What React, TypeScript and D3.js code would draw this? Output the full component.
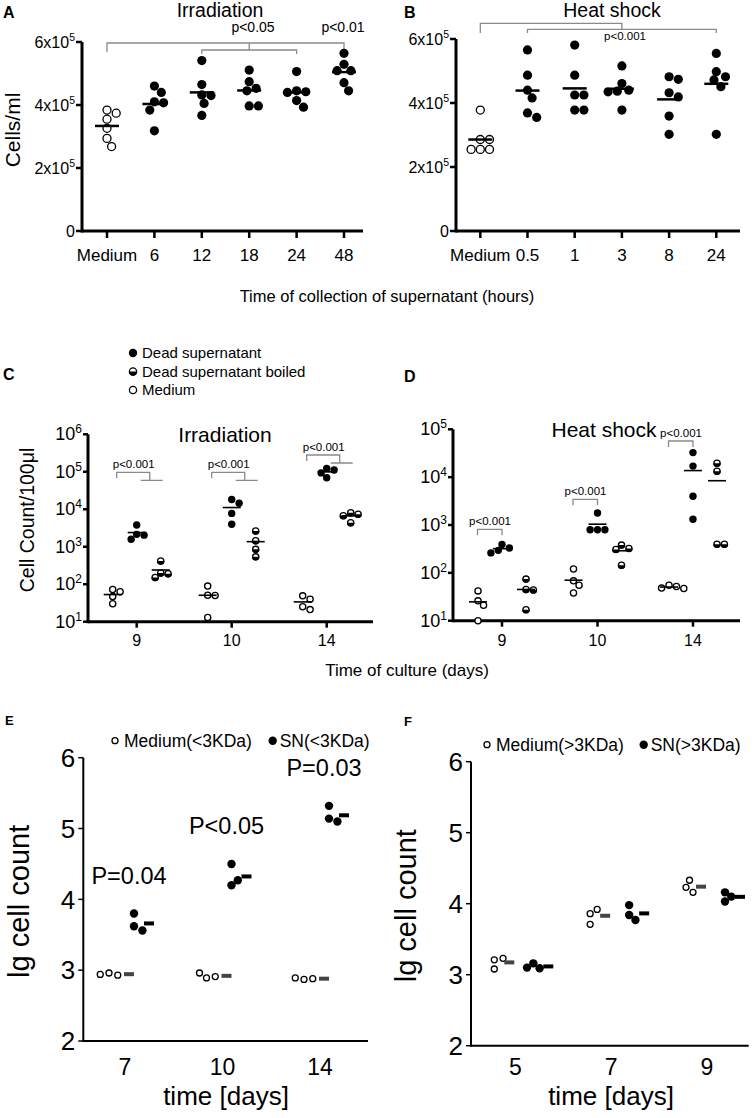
import * as d3 from "d3";

const FONT = "'Liberation Sans', Arial, sans-serif";
const GRAY = "#8a8a8a";

// A: irradiation supernatant, cells/ml (x10^5)
const irrCategories = ["Medium", "6", "12", "18", "24", "48"];
const irrCells = [
  [3.84, 3.74, 3.55, 3.26, 2.94, 2.68],
  [4.6, 4.4, 4.1, 4.07, 3.84, 3.18],
  [5.41, 4.65, 4.32, 4.3, 4.05, 3.67],
  [5.11, 4.74, 4.53, 4.45, 3.97, 3.97],
  [5.06, 4.45, 4.42, 4.4, 4.14, 3.93],
  [5.64, 5.29, 5.09, 5.09, 4.71, 4.45],
];

// B: heat shock supernatant, cells/ml (x10^5)
const heatCategories = ["Medium", "0.5", "1", "3", "8", "24"];
const heatCells = [
  [3.78, 2.86, 2.86, 2.55, 2.55, 2.55],
  [5.66, 4.87, 4.4, 4.16, 3.69, 3.55],
  [5.81, 4.87, 4.25, 4.25, 3.78, 3.78],
  [5.16, 4.61, 4.4, 4.37, 4.35, 3.78],
  [4.82, 4.74, 4.32, 4.19, 3.59, 3.02],
  [5.55, 4.98, 4.82, 4.72, 4.51, 3.02],
];
const cellTicks = [0, 2, 4, 6];

// C, D: cell count / 100 µl
const cultureDays = ["9", "10", "14"];
const irrMedium = [[72, 63, 47, 30], [89, 51, 50, 13], [49, 40, 25, 21]];
const irrDead = [[3800, 2140, 2040, 1580], [18200, 14500, 7760, 3980], [123000, 112000, 93300, 69200]];
const irrBoiled = [[417, 200, 190, 151], [2630, 1445, 851, 537], [8130, 7410, 6760, 4370]];
const heatMedium = [[42, 26, 21, 10], [120, 68, 55, 38], [55, 52, 48, 47]];
const heatDead = [[391, 331, 295, 261], [1780, 794, 794, 794], [32600, 17000, 3980, 1320]];
const heatBoiled = [[74, 45, 44, 17], [380, 324, 309, 145], [19600, 13300, 398, 398]];
const irrExponents = [1, 2, 3, 4, 5, 6];
const heatExponents = [1, 2, 3, 4, 5];

// E, F: lg cell count
const smallDays = ["7", "10", "14"];
const smallMedium = [[2.96, 2.93, 2.94], [2.89, 2.91, 2.96], [2.87, 2.88, 2.89]];
const smallSN = [[3.62, 3.8, 3.56], [4.2, 4.27, 4.5], [5.14, 5.1, 5.32]];
const smallP = ["P=0.04", "P<0.05", "P=0.03"];
const largeDays = ["5", "7", "9"];
const largeMedium = [[3.21, 3.23, 3.08], [3.86, 3.92, 3.71], [4.23, 4.33, 4.16]];
const largeSN = [[3.16, 3.09, 3.1], [3.84, 3.98, 3.77], [4.16, 4.03, 4.1]];
const lgTicks = [2, 3, 4, 5, 6];

type Kind = "open" | "filled" | "half";

// simple beeswarm: push a point sideways until it clears the ones already placed
function dodge(ys: number[], r: number, minDist: number) {
  const placed: [number, number][] = [];
  return ys.map((y) => {
    let off = 0;
    for (let k = 0; k < 80; k++) {
      const c = k === 0 ? 0 : (k % 2 === 1 ? 1 : -1) * Math.ceil(k / 2) * r * 0.5;
      if (placed.every(([px, py]) => Math.hypot(px - c, py - y) >= minDist)) {
        off = c;
        break;
      }
    }
    placed.push([off, y]);
    return off;
  });
}

function Dot({ x, y, r, kind }: { x: number; y: number; r: number; kind: Kind }) {
  if (kind === "filled") return <circle cx={x} cy={y} r={r} fill="#000" />;
  if (kind === "open")
    return <circle cx={x} cy={y} r={r - 0.6} fill="#fff" stroke="#000" strokeWidth={1.3} />;
  return (
    <g>
      <circle cx={x} cy={y} r={r - 0.6} fill="#fff" stroke="#000" strokeWidth={1.3} />
      <path d={`M${x - r},${y} A${r},${r} 0 0 0 ${x + r},${y} Z`} fill="#000" />
    </g>
  );
}

function CellsPanel({
  categories, values, left, right, top, range,
}: {
  categories: string[]; values: number[][]; left: number; right: number; top: number; range: [number, number];
}) {
  const x = d3.scalePoint<string>().domain(categories).range(range);
  const y = d3.scaleLinear().domain([0, 6]).range([231, top]);
  const r = 4.6;
  return (
    <g>
      <line x1={left} x2={right} y1={y(0)} y2={y(0)} stroke="#000" strokeWidth={3} />
      <line x1={left} x2={left} y1={y(6)} y2={y(0) + 1.5} stroke="#000" strokeWidth={3} />
      {cellTicks.map((t) => (
        <g key={t}>
          <line x1={left - 6} x2={left} y1={y(t)} y2={y(t)} stroke="#000" strokeWidth={2.5} />
          <text x={left - 7} y={y(t) + 5.5} textAnchor="end" fontSize={16}>
            {t === 0 ? "0" : <>{`${t}x10`}<tspan dy={-6.5} fontSize={10.5}>5</tspan></>}
          </text>
        </g>
      ))}
      {categories.map((c, i) => {
        const cx = x(c)!;
        const ys = values[i].map((v) => y(v));
        const offs = dodge(ys, r, 8.6);
        const mean = d3.mean(values[i])!;
        return (
          <g key={c}>
            <line x1={cx} x2={cx} y1={y(0)} y2={y(0) + 7} stroke="#000" strokeWidth={2.5} />
            <text x={cx} y={261} textAnchor="middle" fontSize={17}>{c}</text>
            {ys.map((yy, j) => (
              <Dot key={j} x={cx + offs[j]} y={yy} r={r} kind={i === 0 ? "open" : "filled"} />
            ))}
            <line x1={cx - 12} x2={cx + 12} y1={y(mean)} y2={y(mean)} stroke="#000" strokeWidth={2.5} />
          </g>
        );
      })}
    </g>
  );
}

function CulturePanel({
  medium, dead, boiled, left, right, bottom, top, exponents, range, brackets, title, titleX,
}: {
  medium: number[][]; dead: number[][]; boiled: number[][]; left: number; right: number; bottom: number;
  top: number; exponents: number[]; range: [number, number];
  brackets: (x: d3.ScalePoint<string>) => JSX.Element; title: string; titleX: number;
}) {
  const x = d3.scalePoint<string>().domain(cultureDays).range(range);
  const y = d3.scaleLog().domain([10, 10 ** exponents[exponents.length - 1]]).range([bottom, top]);
  const r = 3.7;
  const series: { vals: number[][]; kind: Kind; dx: number }[] = [
    { vals: medium, kind: "open", dx: -24 },
    { vals: dead, kind: "filled", dx: 0 },
    { vals: boiled, kind: "half", dx: 24 },
  ];
  return (
    <g>
      <line x1={left} x2={right} y1={bottom} y2={bottom} stroke="#000" strokeWidth={3} />
      <line x1={left} x2={left} y1={top} y2={bottom + 1.5} stroke="#000" strokeWidth={3} />
      {exponents.map((e) => (
        <g key={e}>
          <line x1={left - 5} x2={left} y1={y(10 ** e)} y2={y(10 ** e)} stroke="#000" strokeWidth={2.5} />
          <text x={left - 6} y={y(10 ** e) + 6} textAnchor="end" fontSize={18}>
            10<tspan dy={-7} fontSize={12}>{e}</tspan>
          </text>
        </g>
      ))}
      {cultureDays.map((d) => (
        <g key={d}>
          <line x1={x(d)} x2={x(d)} y1={bottom} y2={bottom + 6} stroke="#000" strokeWidth={2.5} />
          <text x={x(d)} y={646} textAnchor="middle" fontSize={16}>{d}</text>
        </g>
      ))}
      <text x={titleX} y={top + 8} textAnchor="middle" fontSize={21}>{title}</text>
      {brackets(x)}
      {series.map((s, si) =>
        cultureDays.map((d, gi) => {
          const cx = x(d)! + s.dx;
          const ys = s.vals[gi].map((v) => y(v));
          const offs = dodge(ys, r, 6.8);
          const mean = d3.mean(s.vals[gi])!;
          return (
            <g key={`${si}-${d}`}>
              {ys.map((yy, j) => (
                <Dot key={j} x={cx + offs[j]} y={yy} r={r} kind={s.kind} />
              ))}
              <line x1={cx - 9} x2={cx + 9} y1={y(mean)} y2={y(mean)} stroke="#000" strokeWidth={1.6} />
            </g>
          );
        })
      )}
    </g>
  );
}

function LgPanel({
  days, medium, sn, left, right, bottom, top, range, offsets, pLabels, yLabelX, titleX, legend, legendX,
}: {
  days: string[]; medium: number[][]; sn: number[][]; left: number; right: number; bottom: number; top: number;
  range: [number, number]; offsets: number[]; pLabels?: string[]; yLabelX: number; titleX: number;
  legend: string[]; legendX: number[];
}) {
  const x = d3.scalePoint<string>().domain(days).range(range);
  const y = d3.scaleLinear().domain([2, 6]).range([bottom, top]);
  const [medDx, medDash, snDx, snDash] = offsets;
  const legendY = top - 17;
  return (
    <g>
      <line x1={left} x2={right} y1={bottom} y2={bottom} stroke="#000" strokeWidth={2} />
      <line x1={left} x2={left} y1={top} y2={bottom + 1} stroke="#000" strokeWidth={2} />
      {lgTicks.map((t) => (
        <g key={t}>
          <line x1={left - 5} x2={left} y1={y(t)} y2={y(t)} stroke="#000" strokeWidth={1.5} />
          <text x={left - 8} y={y(t) + 9.3} textAnchor="end" fontSize={26}>{t}</text>
        </g>
      ))}
      <text transform={`translate(${yLabelX},${(top + bottom) / 2 + 2}) rotate(-90)`} textAnchor="middle" fontSize={29}>
        lg cell count
      </text>
      <text x={titleX} y={1105} textAnchor="middle" fontSize={26}>time [days]</text>
      <Dot x={legendX[0]} y={legendY} r={3.6} kind="open" />
      <text x={legendX[0] + 9} y={legendY + 6} fontSize={17.5}>{legend[0]}</text>
      <Dot x={legendX[1]} y={legendY} r={4.2} kind="filled" />
      <text x={legendX[1] + 7} y={legendY + 6} fontSize={17.5}>{legend[1]}</text>
      {days.map((d, i) => {
        const tx = x(d)!;
        const mY = medium[i].map((v) => y(v));
        const sY = sn[i].map((v) => y(v));
        const mOff = dodge(mY, 3.5, 7.6);
        const sOff = dodge(sY, 4.2, 7.6);
        const mMean = d3.mean(medium[i])!;
        const sMean = d3.mean(sn[i])!;
        return (
          <g key={d}>
            <text x={tx} y={1075} textAnchor="middle" fontSize={23}>{d}</text>
            {mY.map((yy, j) => (
              <Dot key={`m${j}`} x={tx + medDx + mOff[j]} y={yy} r={3.6} kind="open" />
            ))}
            {sY.map((yy, j) => (
              <Dot key={`s${j}`} x={tx + snDx + sOff[j]} y={yy} r={4.2} kind="filled" />
            ))}
            <rect x={tx + medDash - 5} y={y(mMean) - 2} width={10} height={4} fill="#444" />
            <rect x={tx + snDash - 5} y={y(sMean) - 2} width={10} height={4} fill="#000" />
            {pLabels && (
              <text x={tx + 4} y={y(d3.max(sn[i])!) - 30} textAnchor="middle" fontSize={23.5}>
                {pLabels[i]}
              </text>
            )}
          </g>
        );
      })}
    </g>
  );
}

export default function App() {
  const xA = d3.scalePoint<string>().domain(irrCategories).range([107, 344]);
  const xB = d3.scalePoint<string>().domain(heatCategories).range([480.3, 716.3]);
  const bracket = { fill: "none", stroke: GRAY, strokeWidth: 1.3 };

  return (
    <svg
      width={754}
      height={1118}
      viewBox="0 0 754 1118"
      style={{ position: "absolute", left: 0, top: 0, background: "#fff", fontFamily: FONT }}
    >
      {/* A */}
      <text x={3} y={18} fontSize={16} fontWeight="bold">A</text>
      <text x={220} y={17} textAnchor="middle" fontSize={19.5}>Irradiation</text>
      <text transform="translate(20,130) rotate(-90)" textAnchor="middle" fontSize={21}>Cells/ml</text>
      <path
        d={`M${xA("Medium")},52 V43 H${xA("48")} V52 M${(xA("12")! + xA("24")!) / 2},43 V50 M${xA("12")},54 V50 H${xA("24")} V54`}
        {...bracket}
      />
      <text x={253} y={32} textAnchor="middle" fontSize={14}>p&lt;0.05</text>
      <text x={xA("48")! - 1} y={32} textAnchor="middle" fontSize={14}>p&lt;0.01</text>
      <CellsPanel categories={irrCategories} values={irrCells} left={82} right={363} top={42} range={[107, 344]} />

      {/* B */}
      <text x={404} y={18} fontSize={16} fontWeight="bold">B</text>
      <text x={612} y={17} textAnchor="middle" fontSize={19.5}>Heat shock</text>
      <path
        d={`M${xB("Medium")},33 V23.3 H${xB("3")} V29.3 M${xB("0.5")},33 V29.3 H${xB("24")} V33`}
        {...bracket}
      />
      <text x={625} y={40} textAnchor="middle" fontSize={11.5}>p&lt;0.001</text>
      <CellsPanel categories={heatCategories} values={heatCells} left={456} right={740} top={39} range={[480.3, 716.3]} />

      <text x={387} y={302} textAnchor="middle" fontSize={16.5}>Time of collection of supernatant (hours)</text>

      {/* C / D legend */}
      <text x={3} y={380} fontSize={16} fontWeight="bold">C</text>
      <text x={404} y={382} fontSize={16} fontWeight="bold">D</text>
      {(["filled", "half", "open"] as Kind[]).map((k, i) => (
        <g key={k}>
          <Dot x={133} y={353 + i * 18.5} r={4.2} kind={k} />
          <text x={142} y={358.3 + i * 18.5} fontSize={15}>
            {["Dead supernatant", "Dead supernatant boiled", "Medium"][i]}
          </text>
        </g>
      ))}
      <text transform="translate(34,520) rotate(-90)" textAnchor="middle" fontSize={19.5}>Cell Count/100μl</text>
      <CulturePanel
        medium={irrMedium} dead={irrDead} boiled={irrBoiled}
        left={88} right={373} bottom={621.7} top={434.3} exponents={irrExponents} range={[136.7, 326.7]}
        title="Irradiation" titleX={225}
        brackets={(x) => (
          <g>
            {cultureDays.map((d, i) => {
              const cx = x(d)!;
              const lv = i === 2 ? 455 : 472.3;
              return (
                <g key={d}>
                  <path d={`M${cx - 20},${lv + 6} V${lv} H${cx + 13} V${lv + 8} M${cx + 4},${lv + 8} H${cx + 26}`} {...bracket} />
                  <text x={cx - 3} y={lv - 4.5} textAnchor="middle" fontSize={11.5}>p&lt;0.001</text>
                </g>
              );
            })}
          </g>
        )}
      />
      <CulturePanel
        medium={heatMedium} dead={heatDead} boiled={heatBoiled}
        left={453} right={740} bottom={620.7} top={429.3} exponents={heatExponents} range={[502, 693]}
        title="Heat shock" titleX={604}
        brackets={(x) => (
          <g>
            {cultureDays.map((d, i) => {
              const cx = x(d)!;
              const lv = [529.3, 499.3, 441][i];
              return (
                <g key={d}>
                  <path d={`M${cx - 24.5},${lv + 6} V${lv} H${cx} V${lv + 6}`} {...bracket} />
                  <text x={cx - 12} y={lv - 4.5} textAnchor="middle" fontSize={11.5}>p&lt;0.001</text>
                </g>
              );
            })}
          </g>
        )}
      />
      <text x={407} y={676} textAnchor="middle" fontSize={17}>Time of culture (days)</text>

      {/* E */}
      <text x={5} y={725} fontSize={13} fontWeight="bold">E</text>
      <LgPanel
        days={smallDays} medium={smallMedium} sn={smallSN}
        left={83.3} right={368} bottom={1041} top={757.7} range={[125, 320]}
        offsets={[-16, 4, 9, 24]} pLabels={smallP} yLabelX={29} titleX={226}
        legend={["Medium(<3KDa)", "SN(<3KDa)"]} legendX={[115, 272.7]}
      />

      {/* F */}
      <text x={404} y={726} fontSize={13} fontWeight="bold">F</text>
      <LgPanel
        days={largeDays} medium={largeMedium} sn={largeSN}
        left={471} right={748.7} bottom={1045.7} top={761.7} range={[515.3, 707]}
        offsets={[-21, -6, 18, 33]} yLabelX={416} titleX={611}
        legend={["Medium(>3KDa)", "SN(>3KDa)"]} legendX={[487, 643.7]}
      />
    </svg>
  );
}
